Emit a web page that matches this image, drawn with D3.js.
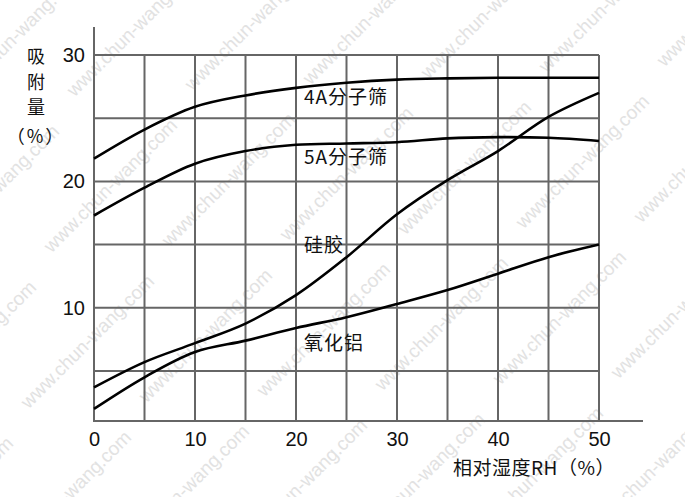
<!DOCTYPE html>
<html><head><meta charset="utf-8">
<script src="https://cdn.jsdelivr.net/npm/d3@7"></script>
<style>
html,body{margin:0;padding:0;background:#fff;}
svg{display:block;}
</style></head>
<body>
<svg id="chart" width="685" height="497"></svg>
<script>
const rh = [0, 5, 10, 15, 20, 25, 30, 35, 40, 45, 50];
const sieve4A = [21.8, 24.1, 25.9, 26.8, 27.4, 27.8, 28.05, 28.15, 28.2, 28.2, 28.2];
const sieve5A = [17.3, 19.5, 21.4, 22.4, 22.9, 23.0, 23.1, 23.4, 23.5, 23.45, 23.2];
const silicaGel = [3.7, 5.7, 7.2, 8.75, 11.0, 14.0, 17.4, 20.1, 22.4, 25.1, 27.0];
const alumina = [2.0, 4.5, 6.5, 7.4, 8.4, 9.25, 10.3, 11.4, 12.7, 14.0, 15.0];
const seriesNames = ["4A分子筛", "5A分子筛", "硅胶", "氧化铝"];
const xTicks = [0, 10, 20, 30, 40, 50];
const yTicks = [10, 20, 30];
const xGrid = [5, 10, 15, 20, 25, 30, 35, 40, 45, 50];
const yGrid = [5, 10, 15, 20, 25, 30];
const xTitle = "相对湿度RH（%）";
const yTitle = ["吸", "附", "量", "（%）"];
const watermark = "www.chun-wang.com";

const svg = d3.select("#chart");
const x = d3.scaleLinear().domain([0, 50]).range([94, 599]);
const y = d3.scaleLinear().domain([1.04, 30]).range([421, 55]);
const numFont = "'Liberation Sans', Arial, sans-serif";
const cjkFont = "'Noto Sans CJK SC', 'Noto Sans', sans-serif";

// faint diagonal watermark tiling (as in the reference image)
const wm = svg.append("g").attr("fill", "#e2e2e2").attr("font-family", numFont).attr("font-size", 19);
for (let i = -6; i < 12; i++) {
  for (let j = -3; j < 6; j++) {
    const cx = 20 + i * 118 + j * 95;
    const cy = 40 + j * 150 - i * 6;
    if (cx < -150 || cx > 830 || cy < -100 || cy > 600) continue;
    wm.append("text").attr("x", 0).attr("y", 0)
      .attr("text-anchor", "middle")
      .attr("transform", `translate(${cx},${cy}) rotate(-45)`)
      .text(watermark);
  }
}

// grid
const grid = svg.append("g").attr("stroke", "#666").attr("stroke-width", 2);
grid.selectAll("line.v").data(xGrid).join("line")
  .attr("x1", d => x(d)).attr("x2", d => x(d)).attr("y1", y(30)).attr("y2", y.range()[0]);
grid.selectAll("line.h").data(yGrid).join("line")
  .attr("x1", x(0)).attr("x2", x(50)).attr("y1", d => y(d)).attr("y2", d => y(d));

// axes
const xAxis = d3.axisBottom(x).tickValues(xTicks).tickSize(0).tickPadding(11);
const gx = svg.append("g").attr("transform", `translate(0,${y.range()[0]})`).call(xAxis);
gx.select(".domain").remove();
gx.selectAll("text").attr("font-family", numFont).attr("font-size", 20).attr("fill", "#111");
svg.append("line").attr("x1", x(0) - 1).attr("x2", 643).attr("y1", y.range()[0]).attr("y2", y.range()[0])
  .attr("stroke", "#666").attr("stroke-width", 2);

const yAxis = d3.axisLeft(y).tickValues(yTicks).tickSize(0).tickPadding(9);
const gy = svg.append("g").attr("transform", `translate(${x(0)},0)`).call(yAxis);
gy.select(".domain").remove();
gy.selectAll("text").attr("font-family", numFont).attr("font-size", 20).attr("fill", "#111");
svg.append("line").attr("x1", x(0)).attr("x2", x(0)).attr("y1", 27).attr("y2", y.range()[0] + 1)
  .attr("stroke", "#666").attr("stroke-width", 2);

// curves
const allSeries = [sieve4A, sieve5A, silicaGel, alumina];
const line = d3.line().x((d, i) => x(rh[i])).y(d => y(d)).curve(d3.curveCatmullRom.alpha(0.5));
svg.append("g").selectAll("path").data(allSeries).join("path")
  .attr("d", d => line(d)).attr("fill", "none").attr("stroke", "#000").attr("stroke-width", 2.6);

// series labels
const labelPos = [[304, 97], [304, 157], [304, 245], [304, 343]];
svg.append("g").selectAll("text").data(seriesNames).join("text")
  .attr("x", (d, i) => labelPos[i][0]).attr("y", (d, i) => labelPos[i][1])
  .attr("dy", "0.35em").attr("font-family", cjkFont).attr("font-size", 19)
  .attr("letter-spacing", 1).attr("fill", "#111")
  .text(d => d);

// titles
svg.append("text").attr("x", 453).attr("y", 468).attr("dy", "0.35em").attr("text-anchor", "start")
  .attr("font-family", cjkFont).attr("font-size", 19).attr("letter-spacing", 0.5).attr("fill", "#111").text(xTitle);
const yTitleY = [57, 83, 108, 137];
svg.append("g").selectAll("text").data(yTitle).join("text")
  .attr("x", 36).attr("y", (d, i) => yTitleY[i]).attr("dy", "0.35em").attr("text-anchor", "middle")
  .attr("font-family", cjkFont).attr("font-size", 18).attr("letter-spacing", (d, i) => i === 3 ? 2 : 0)
  .attr("fill", "#111").text(d => d);
</script>
</body></html>
